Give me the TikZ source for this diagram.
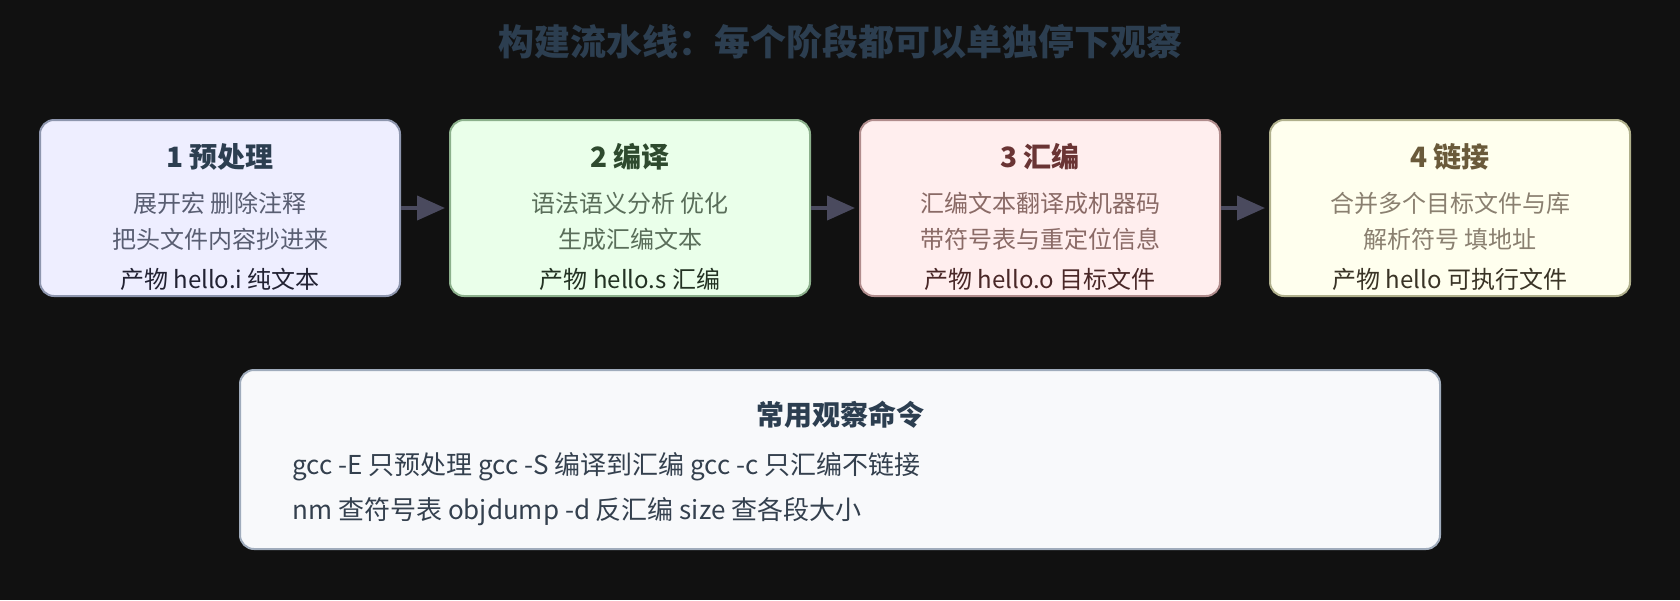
\documentclass[tikz,border=0pt]{standalone}
\usepackage{fontspec}
\setmainfont{Noto Sans CJK SC}
\usetikzlibrary{positioning, arrows.meta}

\definecolor{bgcol}{HTML}{111111}
\definecolor{headcol}{HTML}{2C3E50}
\definecolor{flowcol}{HTML}{4A4A5E}
\definecolor{preFill}{HTML}{EEEEFF}
\definecolor{preLine}{HTML}{8E96AE}
\definecolor{preHead}{HTML}{2C3E50}
\definecolor{preSub}{HTML}{595E72}
\definecolor{preOut}{HTML}{222233}
\definecolor{ccFill}{HTML}{EAFFEA}
\definecolor{ccLine}{HTML}{8CB08C}
\definecolor{ccHead}{HTML}{2E4A2E}
\definecolor{ccSub}{HTML}{5A6E5A}
\definecolor{ccOut}{HTML}{233223}
\definecolor{asFill}{HTML}{FFEEEE}
\definecolor{asLine}{HTML}{B08C8C}
\definecolor{asHead}{HTML}{6A3434}
\definecolor{asSub}{HTML}{8A6A66}
\definecolor{asOut}{HTML}{4A2828}
\definecolor{ldFill}{HTML}{FFFFEE}
\definecolor{ldLine}{HTML}{B0B08C}
\definecolor{ldHead}{HTML}{6A5A3A}
\definecolor{ldSub}{HTML}{8A8070}
\definecolor{ldOut}{HTML}{3A3426}
\definecolor{cmdFill}{HTML}{F8F9FB}
\definecolor{cmdLine}{HTML}{A0ACBC}
\definecolor{cmdText}{HTML}{34404E}

\begin{document}
\begin{tikzpicture}[x=1pt, y=-1pt, node distance=48pt,
    stage/.style={rectangle, rounded corners=14pt, line width=2pt, minimum width=360pt, minimum height=176pt},
    stagetext/.style={align=center, font=\fontsize{24}{36}\selectfont},
    flow/.style={-{Triangle[length=28pt, width=24pt]}, line width=4pt, draw=flowcol, shorten >=4pt}]
\fill [bgcol] (0,0) rectangle (1680,600);
\useasboundingbox (0,0) rectangle (1680,600);

\node [text=headcol, font=\fontsize{36}{40}\selectfont\bfseries] (title) at (840,42) {构建流水线：每个阶段都可以单独停下观察};

\node [stage, fill=preFill, draw=preLine] (pre) at (220,208) {};
\node [stage, fill=ccFill, draw=ccLine, right = of pre] (cc) {};
\node [stage, fill=asFill, draw=asLine, right = of cc] (as) {};
\node [stage, fill=ldFill, draw=ldLine, right = of as] (ld) {};

\node [stagetext] (pre-txt) at ([yshift=-9pt]pre.center) {
    {\fontsize{28}{36}\selectfont\bfseries\color{preHead}1 预处理}\\[9pt]
    {\color{preSub}展开宏 删除注释}\\
    {\color{preSub}把头文件内容抄进来}\\[4pt]
    {\color{preOut}产物 hello.i 纯文本}
    };
\node [stagetext] (cc-txt) at ([yshift=-9pt]cc.center) {
    {\fontsize{28}{36}\selectfont\bfseries\color{ccHead}2 编译}\\[9pt]
    {\color{ccSub}语法语义分析 优化}\\
    {\color{ccSub}生成汇编文本}\\[4pt]
    {\color{ccOut}产物 hello.s 汇编}
    };
\node [stagetext] (as-txt) at ([yshift=-9pt]as.center) {
    {\fontsize{28}{36}\selectfont\bfseries\color{asHead}3 汇编}\\[9pt]
    {\color{asSub}汇编文本翻译成机器码}\\
    {\color{asSub}带符号表与重定位信息}\\[4pt]
    {\color{asOut}产物 hello.o 目标文件}
    };
\node [stagetext] (ld-txt) at ([yshift=-9pt]ld.center) {
    {\fontsize{28}{36}\selectfont\bfseries\color{ldHead}4 链接}\\[9pt]
    {\color{ldSub}合并多个目标文件与库}\\
    {\color{ldSub}解析符号 填地址}\\[4pt]
    {\color{ldOut}产物 hello 可执行文件}
    };

\draw [flow] (pre) -- (cc);
\draw [flow] (cc) -- (as);
\draw [flow] (as) -- (ld);

% observation commands
\node [rectangle, rounded corners=14pt, line width=2pt, fill=cmdFill, draw=cmdLine, minimum width=1200pt, minimum height=179pt] (cmds) at (840,459.5) {};
\node [text=headcol, font=\fontsize{28}{32}\selectfont\bfseries] (cmds-title) at (840,415) {常用观察命令};
\node [anchor=west, text=cmdText, font=\fontsize{26}{30}\selectfont] (cmds-gcc) at (289,467) {gcc -E 只预处理 gcc -S 编译到汇编 gcc -c 只汇编不链接};
\node [anchor=west, text=cmdText, font=\fontsize{26}{30}\selectfont] (cmds-bin) at (289,512) {nm 查符号表 objdump -d 反汇编 size 查各段大小};

\end{tikzpicture}
\end{document}
